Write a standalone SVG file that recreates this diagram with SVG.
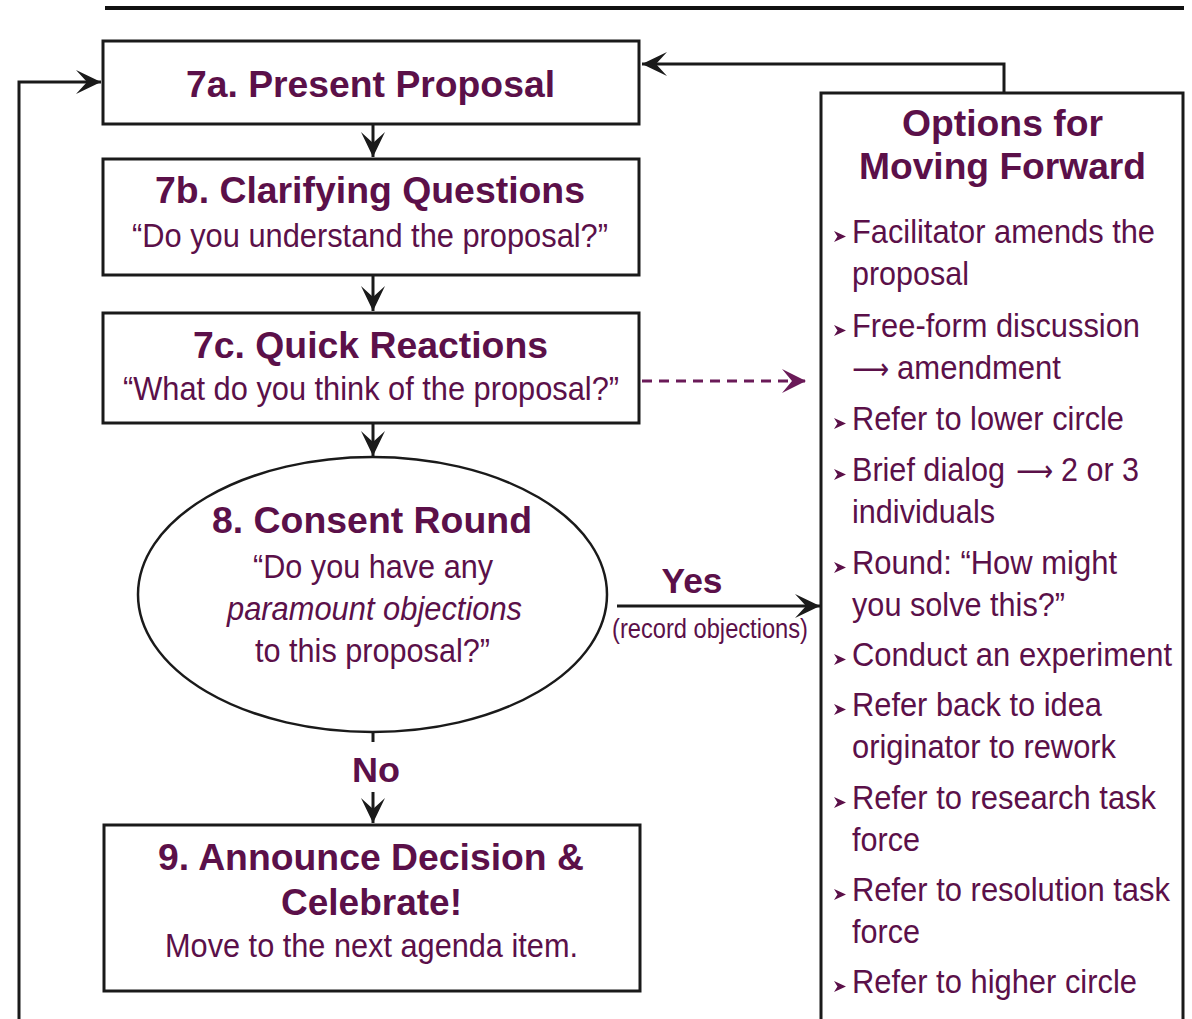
<svg xmlns="http://www.w3.org/2000/svg" width="1192" height="1019" viewBox="0 0 1192 1019">
<style>
.box{fill:#fff;stroke:#1a1a1a;stroke-width:3}
.ln{fill:none;stroke:#1a1a1a;stroke-width:3}
.t{font-family:"Liberation Sans",Arial,sans-serif;fill:#5b1049;text-anchor:middle}
.b{font-weight:bold;font-size:37px}
.r{font-size:33px}
.bl{font-family:"Liberation Sans",Arial,sans-serif;fill:#5b1049;font-size:33px}
.ar{font-family:"DejaVu Sans",sans-serif;fill:#5b1049;font-size:30px}
</style>
<defs>
<marker id="ah" markerWidth="30" markerHeight="30" viewBox="-27 -14 30 28" refX="0" refY="0" orient="auto" markerUnits="userSpaceOnUse">
<path d="M0,0 L-25,-12 L-14,0 L-25,12 Z" fill="#1a1a1a"/>
</marker>
<marker id="ahp" markerWidth="30" markerHeight="30" viewBox="-27 -14 30 28" refX="0" refY="0" orient="auto" markerUnits="userSpaceOnUse">
<path d="M0,0 L-24,-12 L-14,0 L-24,12 Z" fill="#6a1a58"/>
</marker>
<path id="bu" d="M0,-12 L12,-6.5 L0,-1 L3.5,-6.5 Z" fill="#5b1049"/>
</defs>
<rect width="1192" height="1019" fill="#fff"/>
<line x1="105" y1="8" x2="1184" y2="8" stroke="#111" stroke-width="4"/>

<g id="connectors">
<polyline class="ln" points="19,1019 19,82 101,82" marker-end="url(#ah)"/>
<polyline class="ln" points="1004,93 1004,64 642,64" marker-end="url(#ah)"/>
<line class="ln" x1="373" y1="124" x2="373" y2="157" marker-end="url(#ah)"/>
<line class="ln" x1="373" y1="275" x2="373" y2="311" marker-end="url(#ah)"/>
<line class="ln" x1="373" y1="423" x2="373" y2="456" marker-end="url(#ah)"/>
<line class="ln" x1="373" y1="732" x2="373" y2="742"/>
<line class="ln" x1="373" y1="792" x2="373" y2="823" marker-end="url(#ah)"/>
<line x1="642" y1="381" x2="806" y2="381" stroke="#6a1a58" stroke-width="3" stroke-dasharray="10,7" marker-end="url(#ahp)"/>
<line class="ln" x1="617" y1="606" x2="820" y2="606" marker-end="url(#ah)"/>
<text class="t" x="692" y="593" font-weight="bold" font-size="35" textLength="61" lengthAdjust="spacingAndGlyphs">Yes</text>
<text class="t" x="710" y="638" font-size="27" textLength="196" lengthAdjust="spacingAndGlyphs">(record objections)</text>
<text class="t" x="376" y="782" font-weight="bold" font-size="35" textLength="48" lengthAdjust="spacingAndGlyphs">No</text>
</g>

<g id="n7a">
<rect class="box" x="103" y="41" width="536" height="83"/>
<text class="t b" x="370.5" y="97" textLength="369" lengthAdjust="spacingAndGlyphs">7a. Present Proposal</text>
</g>

<g id="n7b">
<rect class="box" x="103" y="159" width="536" height="116"/>
<text class="t b" x="370" y="203" textLength="430" lengthAdjust="spacingAndGlyphs">7b. Clarifying Questions</text>
<text class="t r" x="370" y="247" textLength="476" lengthAdjust="spacingAndGlyphs">“Do you understand the proposal?”</text>
</g>

<g id="n7c">
<rect class="box" x="103" y="313" width="536" height="110"/>
<text class="t b" x="370.5" y="358" textLength="355" lengthAdjust="spacingAndGlyphs">7c. Quick Reactions</text>
<text class="t r" x="371" y="400" textLength="496" lengthAdjust="spacingAndGlyphs">“What do you think of the proposal?”</text>
</g>

<g id="n8">
<ellipse cx="372.5" cy="594.5" rx="234.5" ry="137.5" fill="#fff" stroke="#1a1a1a" stroke-width="2.5"/>
<text class="t b" x="372" y="533" textLength="320" lengthAdjust="spacingAndGlyphs">8. Consent Round</text>
<text class="t r" x="373" y="578" textLength="240" lengthAdjust="spacingAndGlyphs">“Do you have any</text>
<text class="t r" x="374.5" y="620" font-style="italic" textLength="295" lengthAdjust="spacingAndGlyphs">paramount objections</text>
<text class="t r" x="372.5" y="662" textLength="235" lengthAdjust="spacingAndGlyphs">to this proposal?”</text>
</g>

<g id="n9">
<rect class="box" x="104" y="825" width="536" height="166"/>
<text class="t b" x="371" y="870" textLength="426" lengthAdjust="spacingAndGlyphs">9. Announce Decision &amp;</text>
<text class="t b" x="371.5" y="915" textLength="181" lengthAdjust="spacingAndGlyphs">Celebrate!</text>
<text class="t r" x="371.5" y="957" textLength="413" lengthAdjust="spacingAndGlyphs">Move to the next agenda item.</text>
</g>

<g id="options">
<path d="M821,1019 L821,93 L1183,93 L1183,1019" fill="#fff" stroke="#1a1a1a" stroke-width="3"/>
<text class="t b" x="1002.5" y="136" textLength="201" lengthAdjust="spacingAndGlyphs">Options for</text>
<text class="t b" x="1002.5" y="179" textLength="287" lengthAdjust="spacingAndGlyphs">Moving Forward</text>
<use href="#bu" x="834" y="243"/>
<text class="bl" x="852" y="243" textLength="303" lengthAdjust="spacingAndGlyphs">Facilitator amends the</text>
<text class="bl" x="852" y="285" textLength="117" lengthAdjust="spacingAndGlyphs">proposal</text>
<use href="#bu" x="834" y="337"/>
<text class="bl" x="852" y="337" textLength="288" lengthAdjust="spacingAndGlyphs">Free-form discussion</text>
<text class="ar" x="852" y="379" textLength="37" lengthAdjust="spacingAndGlyphs">⟶</text>
<text class="bl" x="897" y="379" textLength="164" lengthAdjust="spacingAndGlyphs">amendment</text>
<use href="#bu" x="834" y="430"/>
<text class="bl" x="852" y="430" textLength="272" lengthAdjust="spacingAndGlyphs">Refer to lower circle</text>
<use href="#bu" x="834" y="481"/>
<text class="bl" x="852" y="481" textLength="153" lengthAdjust="spacingAndGlyphs">Brief dialog</text>
<text class="ar" x="1016" y="481" textLength="37" lengthAdjust="spacingAndGlyphs">⟶</text>
<text class="bl" x="1061" y="481" textLength="78" lengthAdjust="spacingAndGlyphs">2 or 3</text>
<text class="bl" x="852" y="523" textLength="143" lengthAdjust="spacingAndGlyphs">individuals</text>
<use href="#bu" x="834" y="574"/>
<text class="bl" x="852" y="574" textLength="265" lengthAdjust="spacingAndGlyphs">Round: “How might</text>
<text class="bl" x="852" y="616" textLength="213" lengthAdjust="spacingAndGlyphs">you solve this?”</text>
<use href="#bu" x="834" y="666"/>
<text class="bl" x="852" y="666" textLength="320" lengthAdjust="spacingAndGlyphs">Conduct an experiment</text>
<use href="#bu" x="834" y="716"/>
<text class="bl" x="852" y="716" textLength="250" lengthAdjust="spacingAndGlyphs">Refer back to idea</text>
<text class="bl" x="852" y="758" textLength="264" lengthAdjust="spacingAndGlyphs">originator to rework</text>
<use href="#bu" x="834" y="809"/>
<text class="bl" x="852" y="809" textLength="304" lengthAdjust="spacingAndGlyphs">Refer to research task</text>
<text class="bl" x="852" y="851" textLength="68" lengthAdjust="spacingAndGlyphs">force</text>
<use href="#bu" x="834" y="901"/>
<text class="bl" x="852" y="901" textLength="318" lengthAdjust="spacingAndGlyphs">Refer to resolution task</text>
<text class="bl" x="852" y="943" textLength="68" lengthAdjust="spacingAndGlyphs">force</text>
<use href="#bu" x="834" y="993"/>
<text class="bl" x="852" y="993" textLength="285" lengthAdjust="spacingAndGlyphs">Refer to higher circle</text>
</g>
</svg>
